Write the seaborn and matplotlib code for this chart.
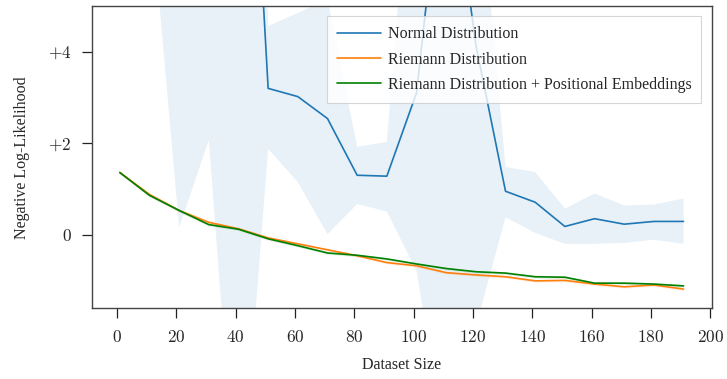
import numpy as np
import pandas as pd
import matplotlib
matplotlib.use("Agg")
import matplotlib.pyplot as plt
import seaborn as sns
from matplotlib.ticker import FixedLocator, FuncFormatter

# ---- data ----
dataset_size = [1, 11, 21, 31, 41, 51, 61, 71, 81, 91,
                101, 111, 121, 131, 141, 151, 161, 171, 181, 191]

normal_mean = [12.0, 11.0, 13.0, 12.0, 14.8, 3.20, 3.02, 2.54, 1.30, 1.28,
               3.10, 9.00, 4.15, 0.95, 0.71, 0.18, 0.35, 0.23, 0.29, 0.29]
normal_low = [9.0, 7.5, 0.16, 2.07, -6.5, 1.88, 1.15, 0.01, 0.67, 0.51,
              -0.79, -4.7, -2.0, 0.38, 0.04, -0.20, -0.20, -0.18, -0.11, -0.20]
normal_high = [15.0, 14.5, 26.0, 22.0, 36.0, 4.56, 4.85, 5.15, 1.92, 2.03,
               10.0, 22.0, 8.6, 1.48, 1.37, 0.57, 0.90, 0.64, 0.66, 0.79]

riemann_mean = [1.36, 0.88, 0.53, 0.27, 0.13, -0.07, -0.20, -0.33, -0.46, -0.61,
                -0.68, -0.83, -0.88, -0.92, -1.01, -1.00, -1.08, -1.14, -1.10, -1.19]
riemann_pe_mean = [1.36, 0.86, 0.53, 0.22, 0.12, -0.09, -0.24, -0.40, -0.45, -0.53,
                   -0.64, -0.74, -0.81, -0.84, -0.92, -0.93, -1.06, -1.06, -1.08, -1.12]
band_half_small = [0.03, 0.03, 0.03, 0.03, 0.03, 0.03, 0.03, 0.03, 0.03, 0.03,
                   0.03, 0.03, 0.03, 0.03, 0.03, 0.03, 0.03, 0.03, 0.03, 0.03]

labels = ["Normal Distribution", "Riemann Distribution",
          "Riemann Distribution + Positional Embeddings"]
colors = ["#1f77b4", "#ff7f0e", "green"]
x_ticks = [0, 20, 40, 60, 80, 100, 120, 140, 160, 180, 200]
y_ticks = [0, 2, 4]

# ---- style ----
sns.set_theme(style="white")
plt.rcParams["font.family"] = ["Liberation Serif", "DejaVu Serif"]
plt.rcParams["mathtext.fontset"] = "cm"

fig = plt.figure(figsize=(7.27, 3.79), dpi=100)
ax = fig.add_axes([0.126, 0.1865, 0.853, 0.7975])

x = np.array(dataset_size, dtype=float)
series = [
    (np.array(normal_mean), np.array(normal_low), np.array(normal_high)),
    (np.array(riemann_mean), np.array(riemann_mean) - np.array(band_half_small),
     np.array(riemann_mean) + np.array(band_half_small)),
    (np.array(riemann_pe_mean), np.array(riemann_pe_mean) - np.array(band_half_small),
     np.array(riemann_pe_mean) + np.array(band_half_small)),
]

for (m, lo, hi), lab, c in zip(series, labels, colors):
    df = pd.DataFrame({"x": x, "y": m})
    sns.lineplot(data=df, x="x", y="y", ax=ax, color=c, lw=1.2, label=lab)
    ax.fill_between(x, lo, hi, color=c, alpha=0.1, lw=0)

ax.set_xlim(-8.5, 200.5)
ax.set_ylim(-1.61, 5.0)
ax.xaxis.set_major_locator(FixedLocator(x_ticks))
ax.yaxis.set_major_locator(FixedLocator(y_ticks))
ax.xaxis.set_major_formatter(FuncFormatter(lambda v, p: r"$%d$" % v))
ax.yaxis.set_major_formatter(FuncFormatter(
    lambda v, p: r"$0$" if v == 0 else r"$%+d$" % v))

ax.tick_params(axis="x", bottom=True, direction="out", length=7.5, width=0.9,
               pad=8, labelsize=12.5, color="#222222")
ax.tick_params(axis="y", left=True, direction="out", length=7.5, width=0.9,
               pad=7, labelsize=12.5, color="#222222")
for s in ax.spines.values():
    s.set_color("#444444")
    s.set_linewidth(1.0)

ax.set_xlabel("Dataset Size", fontsize=11.5, labelpad=8)
ax.set_ylabel("Negative Log-Likelihood", fontsize=11.5, labelpad=13)

leg = ax.legend(loc="upper right", fontsize=11.5, frameon=True, fancybox=False,
                handlelength=2.8, handletextpad=0.4, labelspacing=0.58,
                borderaxespad=0.65, borderpad=0.62)
leg.get_frame().set_edgecolor("#cccccc")
leg.get_frame().set_linewidth(0.8)

fig.savefig("out.png", dpi=100)
